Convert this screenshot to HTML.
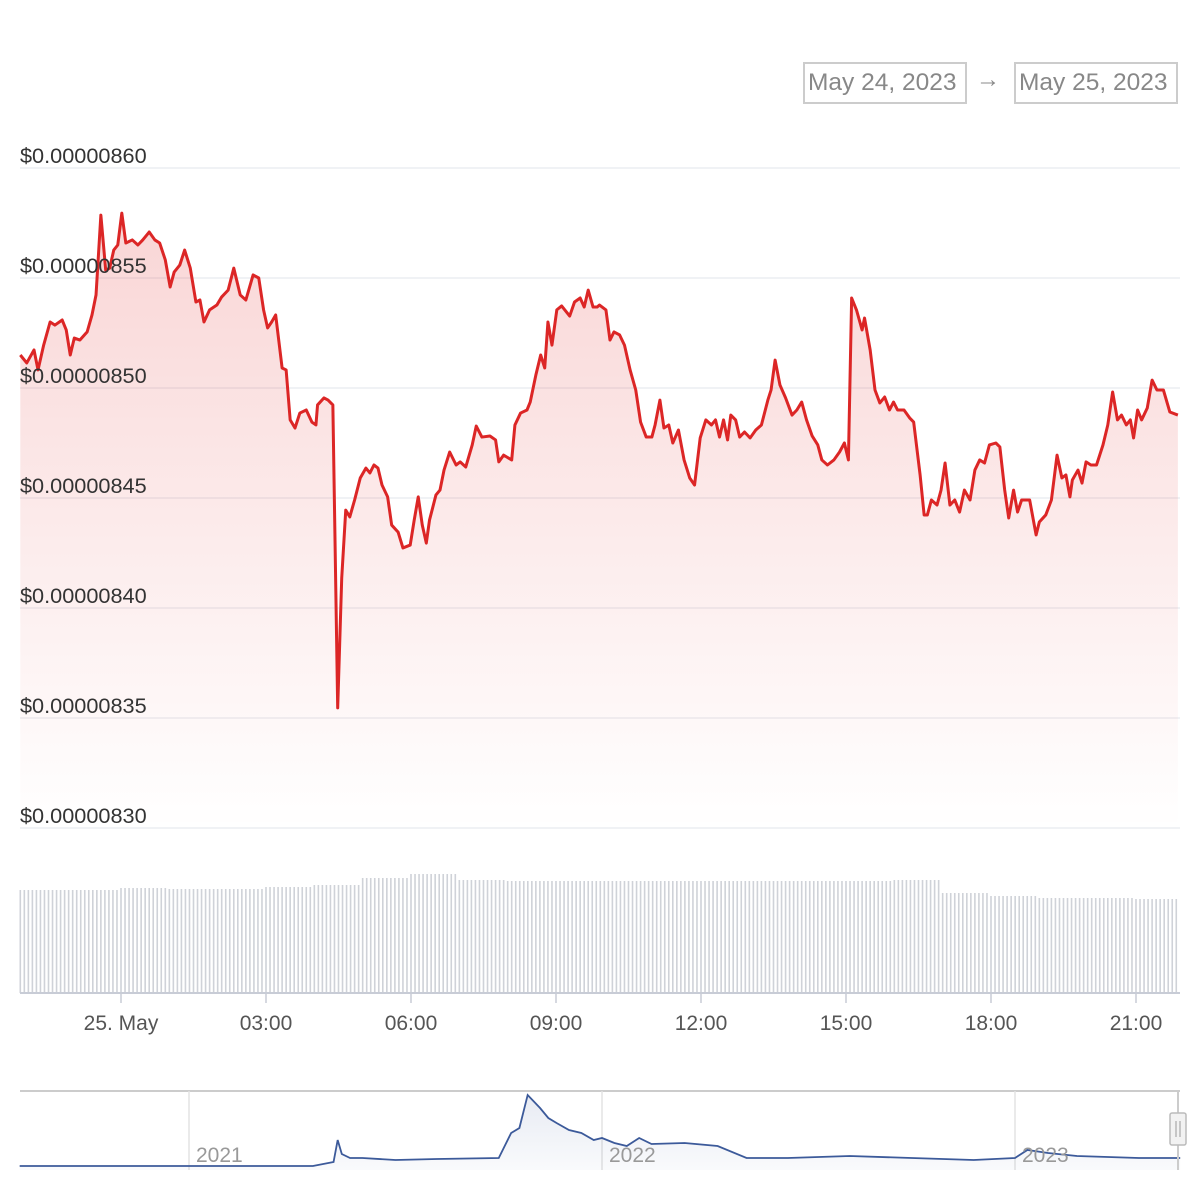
<!DOCTYPE html>
<html><head><meta charset="utf-8"><style>
html,body{margin:0;padding:0;background:#fff;width:1200px;height:1200px;overflow:hidden;font-family:"Liberation Sans",sans-serif}
.box{position:absolute;top:62px;height:38px;border:2px solid #ccc;color:#888;font-size:24.5px;line-height:38px;padding:0 3px;box-sizing:content-box}
</style></head><body>
<div class="box" style="left:803px;width:154px">May 24, 2023</div>
<div style="position:absolute;left:976px;top:66px;font-size:24px;color:#888">→</div>
<div class="box" style="left:1014px;width:154px">May 25, 2023</div>
<svg id="chart" width="1200" height="1200" style="position:absolute;left:0;top:0">
<defs>
<linearGradient id="fillg" x1="0" y1="0" x2="0" y2="1">
<stop offset="0" stop-color="#e03030" stop-opacity="0.2"/>
<stop offset="1" stop-color="#e03030" stop-opacity="0"/>
</linearGradient>
<linearGradient id="navg" x1="0" y1="0" x2="0" y2="1">
<stop offset="0" stop-color="#3c5a9a" stop-opacity="0.12"/>
<stop offset="1" stop-color="#3c5a9a" stop-opacity="0.03"/>
</linearGradient>
</defs>
</svg>
<script>
// price series: minutes from 25 May 00:00, price in units of 1e-10 USD
const times=[-125,-117,-108,-103,-96,-88,-82,-73,-68,-63,-58,-51,-42,-36,-31,-25,-19,-14,-9,-4,1,6,14,21,27,35,42,48,55,61,66,73,79,86,93,98,103,110,119,125,133,140,148,155,164,171,177,182,187,192,200,205,210,216,222,230,237,242,244,252,257,263,269,274,279,284,290,297,304,309,314,319,324,331,336,344,350,359,364,369,374,379,383,391,396,401,408,416,421,428,436,441,448,458,465,469,475,485,489,496,504,508,515,521,526,530,535,541,547,557,563,570,575,580,586,591,594,602,607,612,619,625,632,639,645,652,659,663,669,674,680,685,692,699,706,712,719,726,733,738,743,748,753,757,763,768,774,781,788,795,803,807,812,818,825,833,839,845,851,858,865,870,877,885,892,898,903,907,913,920,923,930,936,942,948,954,959,964,972,979,984,992,997,1001,1006,1013,1018,1023,1029,1035,1041,1047,1054,1060,1066,1072,1078,1086,1091,1097,1102,1108,1113,1118,1128,1136,1140,1148,1155,1162,1168,1173,1178,1181,1188,1193,1198,1204,1211,1219,1225,1231,1237,1242,1248,1253,1257,1262,1267,1274,1280,1286,1294,1302,1312];
const prices=[85150,85114,85173,85082,85195,85300,85286,85309,85264,85150,85227,85218,85255,85332,85423,85786,85536,85545,85627,85650,85795,85659,85673,85650,85673,85709,85673,85659,85582,85459,85527,85559,85627,85545,85391,85400,85300,85355,85377,85414,85445,85545,85423,85400,85514,85500,85355,85273,85300,85332,85091,85082,84855,84818,84886,84900,84845,84832,84923,84955,84945,84923,83546,84136,84445,84414,84491,84591,84636,84614,84650,84636,84559,84505,84377,84345,84273,84286,84400,84505,84377,84295,84400,84514,84536,84627,84709,84650,84664,84641,84741,84827,84777,84782,84764,84664,84695,84673,84832,84886,84900,84936,85059,85150,85091,85300,85195,85355,85373,85327,85391,85409,85368,85445,85368,85368,85377,85355,85218,85255,85241,85195,85082,84991,84845,84777,84777,84832,84945,84818,84832,84750,84809,84673,84591,84559,84773,84855,84832,84855,84777,84855,84764,84877,84855,84777,84800,84773,84809,84832,84945,84991,85127,85014,84955,84877,84900,84936,84855,84782,84741,84673,84650,84673,84709,84750,84673,85409,85355,85264,85318,85173,84991,84932,84959,84900,84936,84900,84900,84864,84845,84605,84423,84423,84491,84468,84536,84659,84468,84491,84436,84536,84491,84627,84673,84659,84741,84750,84732,84536,84409,84536,84436,84491,84491,84332,84391,84423,84491,84695,84591,84605,84505,84582,84627,84568,84664,84650,84650,84741,84832,84982,84855,84877,84832,84855,84773,84900,84855,84909,85036,84991,84991,84891,84877];
const yTicks=[86000,85500,85000,84500,84000,83500,83000];
const yTickLabels=["$0.00000860","$0.00000855","$0.00000850","$0.00000845","$0.00000840","$0.00000835","$0.00000830"];
const xTicks=[0,180,360,540,720,900,1080,1260];
const xTickLabels=["25. May","03:00","06:00","09:00","12:00","15:00","18:00","21:00"];
// rolling volume per hour (hour index from -2 to 22), arbitrary units
const volHours=[-2,-1,0,1,2,3,4,5,6,7,8,9,10,11,12,13,14,15,16,17,18,19,20,21,22];
const volumes=[103,103,105,104,104,106,108,115,119,113,112,112,112,112,112,112,112,112,113,100,97,95,95,94,93];
// navigator: year fraction, price index
const navYears=[2020.59,2021.3,2021.35,2021.36,2021.37,2021.39,2021.42,2021.5,2021.6,2021.75,2021.78,2021.8,2021.82,2021.85,2021.87,2021.89,2021.92,2021.95,2021.98,2022.0,2022.03,2022.06,2022.09,2022.12,2022.2,2022.28,2022.35,2022.45,2022.6,2022.75,2022.9,2022.95,2023.0,2023.03,2023.08,2023.15,2023.3,2023.4];
const navValues=[2,2,6,28,14,10,10,8,9,10,35,40,73,60,50,45,38,35,28,30,25,22,30,24,25,22,10,10,12,10,8,9,10,18,15,12,10,10];
const X0=121,PXMIN=48.333/60,GRID0=388,PXU=0.22;
const xs=t=>X0+t*PXMIN;
const ys=v=>GRID0-(v-85000)*PXU;
const svg=document.getElementById('chart');
const NS='http://www.w3.org/2000/svg';
function mk(tag,attrs){const e=document.createElementNS(NS,tag);for(const k in attrs)e.setAttribute(k,attrs[k]);svg.appendChild(e);return e;}
yTicks.forEach((v,i)=>{
 const g=mk('line',{x1:20,x2:1180,y1:ys(v),y2:ys(v),stroke:'#eceef2','stroke-width':1.5});
 
 
});
let d='M'+xs(times[0])+','+ys(prices[0]);
for(let i=1;i<times.length;i++)d+='L'+xs(times[i])+','+ys(prices[i]);
const area=mk('path',{d:d+'L'+xs(times[times.length-1])+',828L'+xs(times[0])+',828Z',fill:'url(#fillg)'});


const line=mk('path',{d:d,fill:'none',stroke:'#dc2626','stroke-width':3,'stroke-linejoin':'round'});


yTicks.forEach((v,i)=>{
 const t=mk('text',{x:20,y:ys(v)-5,'font-size':21.7,fill:'#333','font-family':'Liberation Sans, sans-serif'});
 t.textContent=yTickLabels[i];
 
 
});
// volume bars
const VB=993,VPX=1;
for(let t=-125;t<=1312;t+=5){
 const h=Math.floor(t/60);const idx=Math.max(0,Math.min(volumes.length-1,volHours.indexOf(h)<0?(h<-2?0:volumes.length-1):volHours.indexOf(h)));
 const b=mk('rect',{x:xs(t)-0.8,y:VB-volumes[idx]*VPX,width:1.6,height:volumes[idx]*VPX,fill:'#cfd2d8'});
 
 
}
const ax=mk('line',{x1:20,x2:1180,y1:993,y2:993,stroke:'#c8ccd6','stroke-width':2});


xTicks.forEach((t,i)=>{
 const tk=mk('line',{x1:xs(t),x2:xs(t),y1:993,y2:1003,stroke:'#c8ccd6','stroke-width':1.5});
 
 
 const tx=mk('text',{x:xs(t),y:1030,'font-size':21,fill:'#555','text-anchor':'middle','font-family':'Liberation Sans, sans-serif'});
 tx.textContent=xTickLabels[i];
 
 
});
// navigator
const nx=y=>189+(y-2021)*413;
const ny=v=>1168-v;
const nb=mk('rect',{x:20,y:1090,width:1158,height:80,fill:'#fff',stroke:'none'});


const ntop=mk('line',{x1:20,x2:1180,y1:1091,y2:1091,stroke:'#ccc','stroke-width':2});


[2021,2022,2023].forEach(yr=>{
 const l=mk('line',{x1:nx(yr),x2:nx(yr),y1:1091,y2:1170,stroke:'#e2e2e2','stroke-width':1.5});
 
 
});
let nd='M'+nx(navYears[0])+','+ny(navValues[0]);
for(let i=1;i<navYears.length;i++)nd+='L'+nx(navYears[i])+','+ny(navValues[i]);
const na=mk('path',{d:nd+'L'+nx(navYears[navYears.length-1])+',1170L'+nx(navYears[0])+',1170Z',fill:'url(#navg)'});


const nl=mk('path',{d:nd,fill:'none',stroke:'#3c5a9a','stroke-width':1.8});


[2021,2022,2023].forEach(yr=>{
 const t=mk('text',{x:nx(yr)+7,y:1162,'font-size':21,fill:'#999','font-family':'Liberation Sans, sans-serif'});
 t.textContent=String(yr);
 
 
});
const nbor=mk('line',{x1:1178,x2:1178,y1:1091,y2:1170,stroke:'#ccc','stroke-width':2});


const hd=mk('rect',{x:1170,y:1113,width:16,height:32,fill:'#f2f2f2',stroke:'#bbb','stroke-width':1.5,rx:2});


[1176,1180].forEach(x=>{const g=mk('line',{x1:x,x2:x,y1:1121,y2:1137,stroke:'#999','stroke-width':1});
 
 });
</script>
</body></html>
